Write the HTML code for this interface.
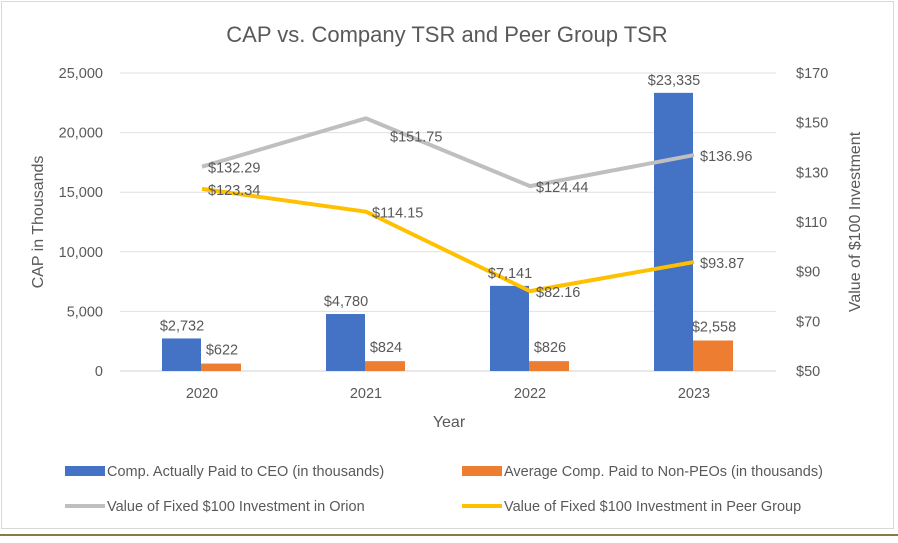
<!DOCTYPE html>
<html><head><meta charset="utf-8"><style>
body{margin:0;background:#fff;width:898px;height:538px;overflow:hidden}
svg text{font-family:"Liberation Sans Narrow","Liberation Sans",sans-serif;fill:#595959}
</style></head><body>
<svg id="chart" width="898" height="538" xmlns="http://www.w3.org/2000/svg">
<rect x="1.5" y="1.5" width="892" height="527" fill="#fff" stroke="#d9d9d9"/>
<line x1="0" y1="535" x2="898" y2="535" stroke="#8a7a4a" stroke-width="2"/>
<text x="447" y="42" text-anchor="middle" font-size="22">CAP vs. Company TSR and Peer Group TSR</text>
<g id="grid"></g><g id="marks"></g><g id="labels"></g>
<text transform="translate(43,222) rotate(-90)" text-anchor="middle" font-size="16">CAP in Thousands</text>
<text transform="translate(860,222) rotate(-90)" text-anchor="middle" font-size="16">Value of $100 Investment</text>
<text x="449" y="427" text-anchor="middle" font-size="16">Year</text>
<g font-size="14">
<rect x="65" y="466" width="40" height="10" fill="#4472c4"/>
<text x="107" y="476" font-size="14.5">Comp. Actually Paid to CEO (in thousands)</text>
<rect x="462" y="466" width="40" height="10" fill="#ed7d31"/>
<text x="504" y="476" font-size="14.5">Average Comp. Paid to Non-PEOs (in thousands)</text>
<line x1="65" y1="506" x2="105" y2="506" stroke="#bfbfbf" stroke-width="4"/>
<text x="107" y="511" font-size="14.5">Value of Fixed $100 Investment in Orion</text>
<line x1="462" y1="506" x2="502" y2="506" stroke="#ffc000" stroke-width="4"/>
<text x="504" y="511" font-size="14.5">Value of Fixed $100 Investment in Peer Group</text>
</g>
</svg>
<script>
const categories=["2020","2021","2022","2023"];
const ceoValues=[2732,4780,7141,23335];
const neoValues=[622,824,826,2558];
const orionValues=[132.29,151.75,124.44,136.96];
const peerValues=[123.34,114.15,82.16,93.87];
const leftTicks=[0,5000,10000,15000,20000,25000];
const rightTicks=[50,70,90,110,130,150,170];
const NS="http://www.w3.org/2000/svg";
const x0=120,step=164,yb=371,yt=73;
const xc=i=>x0+step*(i+0.5);
const yL=v=>yb-(v/25000)*(yb-yt);
const yR=v=>yb-((v-50)/120)*(yb-yt);
function mk(tag,attrs,parent,txt){const e=document.createElementNS(NS,tag);for(const k in attrs)e.setAttribute(k,attrs[k]);if(txt!==undefined)e.textContent=txt;document.getElementById(parent).appendChild(e);return e;}
const fmt=v=>v.toLocaleString("en-US");
leftTicks.forEach(t=>{
  const l=mk("line",{x1:x0,x2:x0+4*step,y1:yL(t),y2:yL(t),stroke:t===0?"#d0d0d0":"#e0e0e0"},"grid");
  
  
  const tx=mk("text",{x:103,y:yL(t)+5,"text-anchor":"end","font-size":"14.5"},"grid",fmt(t));
  
  
});
rightTicks.forEach(t=>{
  const tx=mk("text",{x:796,y:yR(t)+5,"font-size":"14.5"},"grid","$"+t);
  
  
});
categories.forEach((c,i)=>{
  const tx=mk("text",{x:xc(i),y:398,"text-anchor":"middle","font-size":"14.5"},"grid",c);
  
  
  const b=mk("rect",{x:xc(i)-40,y:yL(ceoValues[i]),width:39,height:yb-yL(ceoValues[i]),fill:"#4472c4"},"marks");
  
  
  const o=mk("rect",{x:xc(i)-1,y:yL(neoValues[i]),width:40,height:yb-yL(neoValues[i]),fill:"#ed7d31"},"marks");
  
  
  const lb=mk("text",{x:xc(i)-20,y:yL(ceoValues[i])-8,"text-anchor":"middle","font-size":"14.5"},"labels","$"+fmt(ceoValues[i]));
  
  
  const ln=mk("text",{x:xc(i)+20,y:yL(neoValues[i])-9,"text-anchor":"middle","font-size":"14.5"},"labels","$"+fmt(neoValues[i]));
  
  
});
function line(vals,color,name){
  const p=mk("polyline",{points:vals.map((v,i)=>xc(i)+","+yR(v)).join(" "),fill:"none",stroke:color,"stroke-width":4,"stroke-linejoin":"round"},"marks");
  
  
  vals.forEach((v,i)=>{
    const t=mk("text",{x:xc(i)+(i===1&&name==="line-orion"?24:6),y:yR(v)+(i===1&&name==="line-orion"?23:6),"font-size":"14.5"},"labels","$"+v.toFixed(2));
    
    
  });
}
line(orionValues,"#bfbfbf","line-orion");
line(peerValues,"#ffc000","line-peer");
</script>
</body></html>
